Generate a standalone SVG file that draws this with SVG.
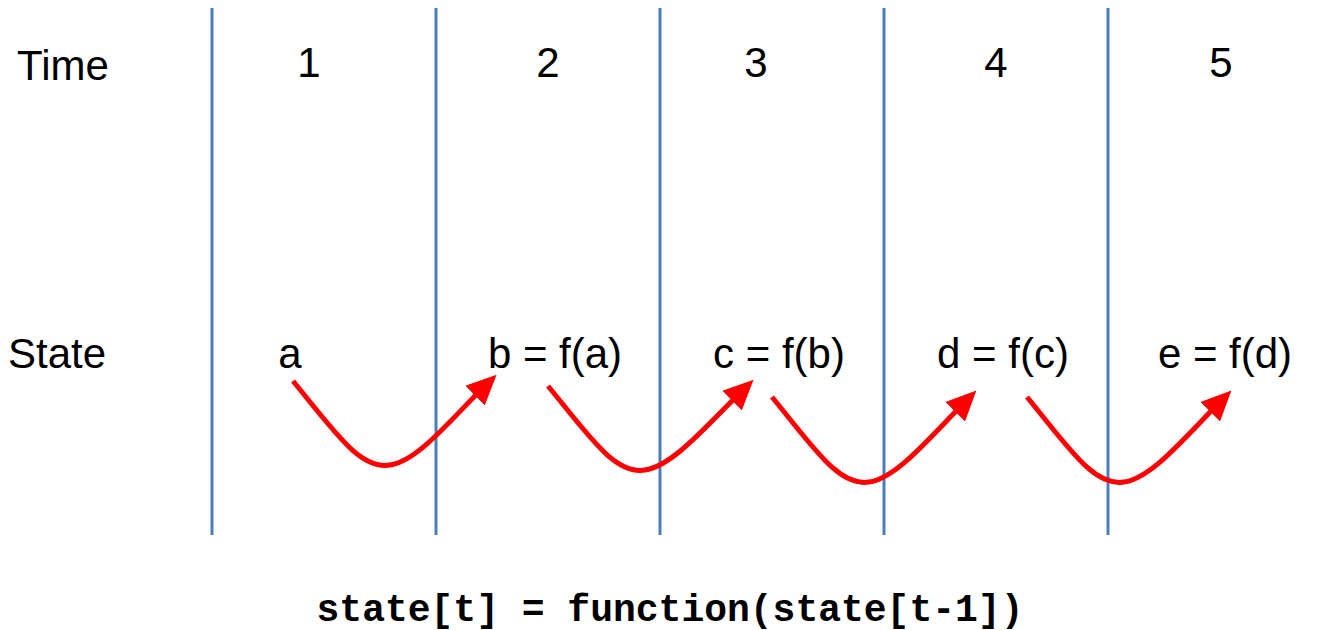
<svg xmlns="http://www.w3.org/2000/svg" width="1323" height="630" viewBox="0 0 1323 630">
<style>
.lbl{font-family:"Liberation Sans",Arial,sans-serif;font-size:42px;fill:#000;text-anchor:middle}
.code{font-family:"Liberation Mono","Courier New",monospace;font-weight:bold;font-size:38px;fill:#000;text-anchor:middle}
.div{stroke:#4A7EBB;stroke-width:3}
.arr{fill:none;stroke:#FF0000;stroke-width:5;marker-end:url(#ah)}
</style>
<defs>
<marker id="ah" markerUnits="userSpaceOnUse" markerWidth="30" markerHeight="30" refX="12" refY="12" orient="auto" viewBox="0 0 26 24">
<path d="M0,0 L26,12 L0,24 Z" fill="#FF0000"/>
</marker>
</defs>
<rect width="1323" height="630" fill="#fff"/>
<g id="dividers">
<line class="div" x1="212" y1="8" x2="212" y2="535"/>
<line class="div" x1="436" y1="8" x2="436" y2="535"/>
<line class="div" x1="660" y1="8" x2="660" y2="535"/>
<line class="div" x1="884" y1="8" x2="884" y2="535"/>
<line class="div" x1="1108" y1="8" x2="1108" y2="535"/>
</g>
<g id="header">
<text class="lbl" x="63" y="80">Time</text>
<text class="lbl" x="309" y="77">1</text>
<text class="lbl" x="548" y="77">2</text>
<text class="lbl" x="756" y="77">3</text>
<text class="lbl" x="996" y="77">4</text>
<text class="lbl" x="1221" y="77">5</text>
</g>
<g id="states">
<text class="lbl" x="57" y="368">State</text>
<text class="lbl" x="290" y="368">a</text>
<text class="lbl" x="555" y="368">b = f(a)</text>
<text class="lbl" x="779" y="368">c = f(b)</text>
<text class="lbl" x="1003" y="368">d = f(c)</text>
<text class="lbl" x="1225" y="368">e = f(d)</text>
</g>
<g id="connectors">
<path class="arr" d="M293,381 C335,432 360,470 390,465 C418,461 450,420 485,386"/>
<path class="arr" d="M548,386 C590,437 615,475 645,470 C673,466 707,425 742,391"/>
<path class="arr" d="M772,397 C814,448 839,487 869,482 C897,478 930,437 965,402"/>
<path class="arr" d="M1027,397 C1069,448 1094,487 1124,482 C1152,478 1185,437 1220,402"/>
</g>
<g id="formula">
<text class="code" x="670" y="621">state[t] = function(state[t-1])</text>
</g>
</svg>
